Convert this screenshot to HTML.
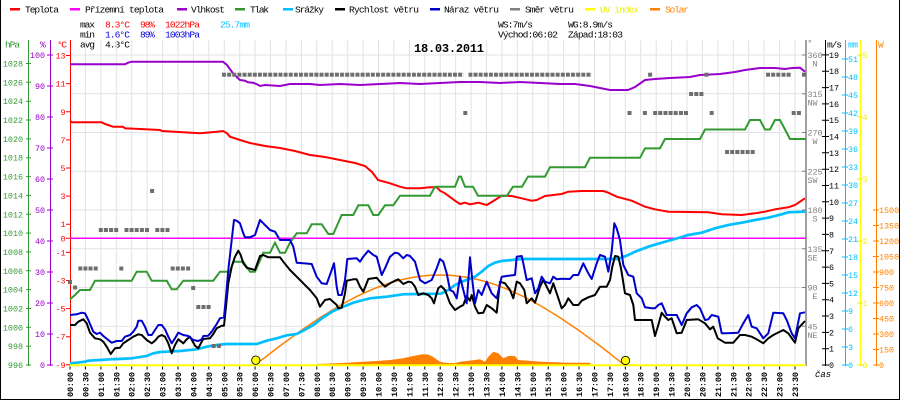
<!DOCTYPE html>
<html><head><meta charset="utf-8"><style>
html,body{margin:0;padding:0;background:#fff;}
svg{display:block;}
text{font-family:"Liberation Mono","DejaVu Sans Mono",monospace;}
.l{font-size:9.6px;}
.a{font-size:8.4px;}
.x{font-size:8.6px;font-weight:bold;}
</style></head><body>
<svg width="900" height="400" viewBox="0 0 900 400" xmlns="http://www.w3.org/2000/svg">
<defs>
<pattern id="sq" x="222" y="72.7" width="5.1333" height="4" patternUnits="userSpaceOnUse"><rect width="4" height="4" fill="#6e6e6e"/></pattern>
</defs>
<rect width="900" height="400" fill="#fff"/>
<path d="M0.5 0V400M899.5 0V400M0 399.5H900" stroke="#000" stroke-width="1" fill="none"/>

<!-- legend -->
<g class="l">
<rect x="10" y="8" width="10" height="2.5" fill="#ff0000"/><text x="25" y="12.5" textLength="34">Teplota</text>
<rect x="70" y="8" width="10" height="2.5" fill="#ff00ff"/><text x="85" y="12.5" textLength="79">Přízemní teplota</text>
<rect x="177" y="8" width="10" height="2.5" fill="#9900cc"/><text x="191" y="12.5" textLength="34">Vlhkost</text>
<rect x="235" y="8" width="10" height="2.5" fill="#339933"/><text x="250" y="12.5" textLength="19">Tlak</text>
<rect x="283" y="8" width="10" height="2.5" fill="#00bfff"/><text x="295" y="12.5" textLength="29">Srážky</text>
<rect x="335" y="8" width="10" height="2.5" fill="#000"/><text x="349" y="12.5" textLength="70">Rychlost větru</text>
<rect x="430" y="8" width="10" height="2.5" fill="#0000cc"/><text x="444" y="12.5" textLength="55">Náraz větru</text>
<rect x="510" y="8" width="10" height="2.5" fill="#808080"/><text x="525" y="12.5" textLength="49">Směr větru</text>
<rect x="585" y="8" width="10" height="2.5" fill="#ffff00"/><text x="600" y="12.5" textLength="39" fill="#eeee00">UV index</text>
<rect x="650" y="8" width="10" height="2.5" fill="#ff8000"/><text x="665" y="12.5" textLength="24" fill="#ff8000">Solar</text>
</g>

<!-- stats -->
<g class="l">
<text x="80" y="27.5" textLength="15">max</text><text x="105" y="27.5" fill="#ff0000" textLength="25">8.3°C</text><text x="140" y="27.5" fill="#ff0000" textLength="15">98%</text><text x="165" y="27.5" fill="#ff0000" textLength="35">1022hPa</text><text x="220" y="27.5" fill="#00bfff" textLength="30">25.7mm</text>
<text x="80" y="37.5" textLength="15">min</text><text x="105" y="37.5" fill="#0000dd" textLength="25">1.6°C</text><text x="140" y="37.5" fill="#0000dd" textLength="15">89%</text><text x="165" y="37.5" fill="#0000dd" textLength="35">1003hPa</text>
<text x="80" y="47.5" textLength="15">avg</text><text x="105" y="47.5" textLength="25">4.3°C</text>
<text x="498" y="27.5" textLength="35">WS:7m/s</text><text x="568" y="27.5" textLength="45">WG:8.9m/s</text>
<text x="498" y="37.5" textLength="60">Východ:06:02</text><text x="568" y="37.5" textLength="55">Západ:18:03</text>
</g>

<!-- grid -->
<path d="M85.4 40V365M100.9 40V365M116.3 40V365M131.7 40V365M147.1 40V365M162.6 40V365M178 40V365M193.4 40V365M208.8 40V365M224.3 40V365M239.7 40V365M255.1 40V365M270.5 40V365M286 40V365M301.4 40V365M316.8 40V365M332.2 40V365M347.7 40V365M363.1 40V365M378.5 40V365M393.9 40V365M409.4 40V365M424.8 40V365M440.2 40V365M455.6 40V365M471.1 40V365M486.5 40V365M501.9 40V365M517.3 40V365M532.8 40V365M548.2 40V365M563.6 40V365M579 40V365M594.5 40V365M609.9 40V365M625.3 40V365M640.7 40V365M656.2 40V365M671.6 40V365M687 40V365M702.4 40V365M717.9 40V365M733.3 40V365M748.7 40V365M764.1 40V365M779.6 40V365M795 40V365" stroke="#e2e2e2" stroke-width="1" fill="none"/>
<path d="M70 55H806M70 93.75H806M70 132.5H806M70 171.25H806M70 210H806M70 248.75H806M70 287.5H806M70 326.25H806" stroke="#e2e2e2" stroke-width="1" fill="none"/>

<rect x="412" y="42" width="74" height="11" fill="#fff"/>
<text x="414" y="52" style="font-size:12px;font-weight:bold" textLength="70">18.03.2011</text>

<!-- left axes -->
<line x1="28.5" y1="40" x2="28.5" y2="366" stroke="#339933"/>
<line x1="50.5" y1="40" x2="50.5" y2="366" stroke="#9900cc"/>
<line x1="70.5" y1="40" x2="70.5" y2="366" stroke="#ff0000"/>
<path d="M26 365H31M26 346.2H31M26 327.3H31M26 308.5H31M26 289.6H31M26 270.8H31M26 251.9H31M26 233.1H31M26 214.3H31M26 195.4H31M26 176.6H31M26 157.7H31M26 138.9H31M26 120H31M26 101.2H31M26 82.3H31M26 63.5H31" stroke="#339933"/>
<path d="M47 365H53M47 334H53M47 303H53M47 272H53M47 241H53M47 210H53M47 179H53M47 148H53M47 117H53M47 86H53M47 55H53" stroke="#9900cc"/>
<path d="M66 55.5H70M66 83.6H70M66 111.8H70M66 139.9H70M66 168H70M66 196.1H70M66 224.2H70M66 238.3H70M66 252.4H70M66 280.5H70M66 308.6H70M66 336.7H70M66 364.8H70" stroke="#ff0000"/>
<g class="a" text-anchor="end" fill="#339933">
<text x="23" y="368">996</text><text x="23" y="349.2">998</text><text x="23" y="330.3">1000</text><text x="23" y="311.5">1002</text><text x="23" y="292.6">1004</text><text x="23" y="273.8">1006</text><text x="23" y="254.9">1008</text><text x="23" y="236.1">1010</text><text x="23" y="217.3">1012</text><text x="23" y="198.4">1014</text><text x="23" y="179.6">1016</text><text x="23" y="160.7">1018</text><text x="23" y="141.9">1020</text><text x="23" y="123">1022</text><text x="23" y="104.2">1024</text><text x="23" y="85.3">1026</text><text x="23" y="66.5">1028</text>
</g>
<g class="a" text-anchor="end" fill="#9900cc">
<text x="45" y="368">0</text><text x="45" y="337">10</text><text x="45" y="306">20</text><text x="45" y="275">30</text><text x="45" y="244">40</text><text x="45" y="213">50</text><text x="45" y="182">60</text><text x="45" y="151">70</text><text x="45" y="120">80</text><text x="45" y="89">90</text><text x="45" y="58">100</text>
</g>
<g class="a" text-anchor="end" fill="#ff0000">
<text x="65.5" y="58.5">13</text><text x="65.5" y="86.6">11</text><text x="65.5" y="114.8">9</text><text x="65.5" y="142.9">7</text><text x="65.5" y="171">5</text><text x="65.5" y="199.1">3</text><text x="65.5" y="227.2">1</text><text x="65.5" y="241.3">0</text><text x="65.5" y="255.4">-1</text><text x="65.5" y="283.5">-3</text><text x="65.5" y="311.6">-5</text><text x="65.5" y="339.7">-7</text><text x="65.5" y="367.8">-9</text>
</g>
<g class="l">
<text x="5" y="47.5" fill="#339933" textLength="15">hPa</text><text x="40" y="47.5" fill="#9900cc">%</text><text x="57" y="47.5" fill="#ff0000" textLength="10">°C</text>
<text x="807" y="46" fill="#808080">°</text><text x="827" y="47.5" textLength="15">m/s</text><text x="848" y="47.5" fill="#00bfff" textLength="10">mm</text><text x="878" y="47.5" fill="#ff8000">W</text>
</g>

<!-- right axes -->
<line x1="806" y1="40" x2="806" y2="366" stroke="#808080" stroke-width="1.5"/>
<line x1="825.5" y1="40" x2="825.5" y2="366" stroke="#000"/>
<line x1="845.5" y1="40" x2="845.5" y2="366" stroke="#00bfff"/>
<line x1="860.5" y1="40" x2="860.5" y2="366" stroke="#ffff00" stroke-width="1.5"/>
<line x1="876.5" y1="40" x2="876.5" y2="366" stroke="#ff8000"/>
<path d="M802 55H806M802 93.75H806M802 132.5H806M802 171.25H806M802 210H806M802 248.75H806M802 287.5H806M802 326.25H806" stroke="#808080"/>
<path d="M822 365H829M822 348.7H829M822 332.4H829M822 316H829M822 299.7H829M822 283.4H829M822 267.1H829M822 250.8H829M822 234.4H829M822 218.1H829M822 201.8H829M822 185.5H829M822 169.2H829M822 152.8H829M822 136.5H829M822 120.2H829M822 103.9H829M822 87.6H829M822 71.2H829M822 54.9H829" stroke="#000"/>
<path d="M842 365H848M842 347H848M842 329H848M842 311H848M842 293H848M842 275H848M842 257H848M842 239H848M842 221H848M842 203H848M842 185H848M842 167H848M842 149H848M842 131H848M842 113H848M842 95H848M842 77H848M842 59H848" stroke="#00bfff"/>
<path d="M857 365H863M857 303H863M857 241H863M857 179H863M857 117H863M857 55H863" stroke="#eeee00"/>
<path d="M873 365H879M873 349.5H879M873 334H879M873 318.5H879M873 303H879M873 287.5H879M873 272H879M873 256.5H879M873 241H879M873 225.5H879M873 210H879" stroke="#ff8000"/>
<g class="a" fill="#808080">
<text x="807.5" y="58">360</text><text x="807.5" y="96.8">315</text><text x="807.5" y="135.5">270</text><text x="807.5" y="174.3">225</text><text x="807.5" y="213">180</text><text x="807.5" y="251.8">135</text><text x="807.5" y="290.5">90</text><text x="807.5" y="329.3">45</text>
</g>
<g class="a" fill="#808080" text-anchor="end">
<text x="817.5" y="66.5">N</text><text x="817.5" y="105.3">NW</text><text x="817.5" y="144">W</text><text x="817.5" y="182.8">SW</text><text x="817.5" y="221.5">S</text><text x="817.5" y="260.3">SE</text><text x="817.5" y="299">E</text><text x="817.5" y="337.8">NE</text>
</g>
<g class="a" fill="#000">
<text x="829" y="368">0</text><text x="829" y="351.7">1</text><text x="829" y="335.4">2</text><text x="829" y="319">3</text><text x="829" y="302.7">4</text><text x="829" y="286.4">5</text><text x="829" y="270.1">6</text><text x="829" y="253.8">7</text><text x="829" y="237.4">8</text><text x="829" y="221.1">9</text><text x="829" y="204.8">10</text><text x="829" y="188.5">11</text><text x="829" y="172.2">12</text><text x="829" y="155.8">13</text><text x="829" y="139.5">14</text><text x="829" y="123.2">15</text><text x="829" y="106.9">16</text><text x="829" y="90.6">17</text><text x="829" y="74.2">18</text><text x="829" y="57.9">19</text>
</g>
<g class="a" fill="#00bfff">
<text x="848" y="368">0</text><text x="848" y="350">3</text><text x="848" y="332">6</text><text x="848" y="314">9</text><text x="848" y="296">12</text><text x="848" y="278">15</text><text x="848" y="260">18</text><text x="848" y="242">21</text><text x="848" y="224">24</text><text x="848" y="206">27</text><text x="848" y="188">30</text><text x="848" y="170">33</text><text x="848" y="152">36</text><text x="848" y="134">39</text><text x="848" y="116">42</text><text x="848" y="98">45</text><text x="848" y="80">48</text><text x="848" y="62">51</text>
</g>
<g class="a" fill="#eeee00">
<text x="862.5" y="368">0</text><text x="862.5" y="306">1</text><text x="862.5" y="244">2</text><text x="862.5" y="182">3</text><text x="862.5" y="120">4</text><text x="862.5" y="58">5</text>
</g>
<g class="a" fill="#ff8000">
<text x="879" y="368">0</text><text x="879" y="352.5">150</text><text x="879" y="337">300</text><text x="879" y="321.5">450</text><text x="879" y="306">600</text><text x="879" y="290.5">750</text><text x="879" y="275">900</text><text x="879" y="259.5">1050</text><text x="879" y="244">1200</text><text x="879" y="228.5">1350</text><text x="879" y="213">1500</text>
</g>
<text x="815" y="377" style="font-size:9px;font-style:italic">čas</text>

<!-- solar measured fill -->
<polygon fill="#ff8000" points="316,365 316.7,364 330,363.5 346.7,362.7 363,361.7 376.7,361 390,360 403,358.3 413,356 423,354.3 428,354.5 433,356.7 436.7,359.5 440,361.7 445,362.7 455,363.3 460,361.7 475,360 480,359.3 485,361.7 488.3,356.7 493.3,351.7 498.3,353.3 503.3,358.3 508.3,356 515,356 518.3,360 528.3,360.7 541.7,361.7 568.3,362.7 590,362.7 591,365"/>
<polyline fill="none" stroke="#ff8000" stroke-width="1.5" points="255,365 264,358.2 273.5,350.9 282.5,344 292,337.2 301,330.5 310.5,324.1 319.5,318 329,312.1 338,306.6 347.5,301.4 356.5,296.6 366,292.2 375,288.3 384.5,284.8 393.5,281.9 403,279.4 412,277.5 421.5,276.1 430.5,275.3 440,275 449.5,275.3 458.5,276.1 468,277.5 477,279.4 486.5,281.9 495.5,284.8 505,288.3 514,292.2 523.5,296.6 532.5,301.4 542,306.6 551,312.1 560.5,318 569.5,324.1 579,330.5 588,337.2 597.5,344 606.5,350.9 615.5,358.2 625,365"/>

<line x1="70" y1="238.3" x2="806" y2="238.3" stroke="#ff00ff" stroke-width="1.5"/>

<polyline fill="none" stroke="#ff0000" stroke-width="2" points="70,121 72,122.3 101.7,122.3 105,124 108,125 113,126.7 123,126.7 125,128.3 140,129 160,130 162,131 200,133.3 217,131.7 223,131 227,133.3 230,136.7 237,139 240,140 250,143 265,146 280,148 295,151 310,155 325,157 340,160 355,163 365,166 372,172 378,180 390,183.3 400,186.7 406.7,188.3 420,188.3 430,187.3 436.7,187.3 440,190.7 445,193.3 455,200.7 460,204 465,202.7 470,204.3 478.3,202.7 486.7,205 495,200 501.7,195.7 511.7,196 521.7,198.3 531.7,200.7 536.7,200 545,196 561.7,194 568.3,191.7 581.7,191 603.3,191 608.3,192.7 616.7,196.7 631.7,200.7 645,206.7 655,209.3 668.3,211.7 708.3,212.3 721.7,214.3 741.7,215 755,213.3 765,211.7 775,209.3 788.3,207.3 795,205 805,198.3"/>

<polyline fill="none" stroke="#9900cc" stroke-width="2" points="70,64.3 125,64.3 128,62.7 132,61.7 223,61.7 227,65 233,73.3 238,78.3 240,80 245,80.7 248,82.3 253,82.7 257,84.3 260,86 265,85 280,86 290,84 310,84 320,85 340,84 360,85 380,84 400,83 420,84 440,83 460,82 480,82 500,83 520,82 540,83 560,84 575,84 590,86 600,88 610,90 628,90 635,87 645,80 655,79 670,78 690,77 700,75 720,74 735,72 745,70 760,68 775,68 785,69 792,68 800,67.7 805,71.7"/>

<polyline fill="none" stroke="#339933" stroke-width="2" points="70,299.3 75,295 80,290 90,290 95,280.7 131.7,280.7 136.7,271.7 146.7,271.7 151.7,280.7 166.7,280.7 171.7,289.3 176.7,289.3 183.3,280.7 213.3,280.7 220,271.7 230,271.7 233.3,261.7 243.3,261.7 250,271.7 255,271.7 263.3,252.7 270,252.7 275,242.7 280,252.7 285,252.7 290,242.7 296.7,233.3 306.7,233.3 311.7,224.3 321.7,224.3 328.3,234 333.3,234 341.7,215 353.3,215 358.3,205.3 368.3,205.3 373.3,215 378.3,215 385,205.3 393.3,205.3 400,195.7 430,195.7 435,186.7 455,186.7 459,176.6 461,176.6 465,186.7 473,186.7 478,195.7 507,195.7 513,186.7 522,186.7 528,176.6 545,176.6 550,167.2 585,167.2 590,157.8 640,157.8 645,148.4 660,148.4 665,139 700,139 705,129.5 745,129.5 750,120 760,120 765,129.5 770,129.5 775,120 780,120 785,129.5 790,139 806,139"/>

<polyline fill="none" stroke="#00bfff" stroke-width="2.7" points="70,363.3 76.7,362.7 85,361.7 88.3,360.7 100,360 110,359.3 118.3,359 131.7,358.3 146.7,356 153.3,353.3 160,352 166.7,351.7 180,351 196.7,349.3 206.7,346.7 216.7,345 226.7,344 256.7,344 266.7,340.7 276.7,338.3 286.7,335.3 296.7,334 303.3,330.7 313.3,325 323.3,317.3 333.3,311 343.3,306.7 353.3,302.7 363.3,300 370,298.3 386.7,296.7 403.3,294.3 416.7,294 440,293.7 441.7,293.3 448.3,290 455,285 461.7,281.7 468.3,279.3 475,276.7 481.7,271.7 488.3,266 495,262.7 501.7,261 511.7,260 521.7,259 618,259 621.7,257.5 628.3,255 635,251.7 648.3,246.7 661.7,242.7 675,239 688.3,235 701.7,232.7 715,228.3 728.3,225 741.7,222.7 755,220 768.3,217.7 781.7,214.3 788.3,212.3 805,211.7"/>

<polyline fill="none" stroke="#000" stroke-width="2" stroke-linejoin="round" points="70,325 75,325 78.3,321.7 83.3,319.3 86.7,323.3 90,332.7 95,338.3 100,339.3 103.3,341.7 106.7,346.7 110.7,354 115,348.3 120,347.7 123.3,343.3 128.3,340 133.3,336.7 138.3,334.3 141.7,335 146.7,340 151.7,343.3 155,340.7 158.3,336.7 161.7,335 165,336.7 168.3,343.3 171.7,353.3 175,345 178.3,339.3 183.3,343.3 186.7,339.3 190,336.7 195,345.7 198.3,348.3 201.7,341.7 203.3,339 210,338.3 213.3,334 216.7,328.3 221.7,325.7 224,325.7 226,306.7 228.3,283.3 231.7,266.7 235,256.7 238.3,250.7 240.7,255 243.3,263.3 246.7,267.7 255,270 260,256 263.3,255 268.3,257.3 280,257.3 283.3,261.7 290,270 296.7,276.7 303.3,283.3 310,290 316.7,298.3 320,306.7 325,300 330,299 336.7,305 338.3,308.3 341.7,307.7 345,293.3 346.7,280.7 353.3,279.3 356.7,279.3 360,286.7 363.3,291.7 368.3,279 376.7,277.7 380,281.7 385,286.7 390,283.3 395,280.7 398.3,279.3 403.3,284 408.3,281.7 411.7,282.3 415,286.7 418.3,295 423.3,293.3 428.3,295 431.7,298.3 434,303.3 436.7,293.3 438.3,288.3 441,286 445,290 450,303.3 455,310 460,306.7 463.3,305 466.7,296 470,300.7 471.7,295 475,306.7 478.3,313.3 483.3,312.7 486.7,305 491.7,308.3 496.7,312.7 500,281.7 505,283.3 510,290 513.3,298.3 516.7,281.7 520,283.3 524.3,290 526.7,303.3 531.7,298.3 535,302.7 540,286.7 543.3,280 546.7,286.7 550,293.3 553.3,283.3 556.7,293.3 561.7,308.3 565,305 568.3,298.3 573.3,305 578.3,305 581.7,300.7 588.3,297.3 595,295 600,286.7 606.7,286.7 610,280 612.3,266.7 615,256 618.3,256.7 621,268.3 625,293.3 630,295 633.3,305 635,320 651.7,320 655,336 658.3,325 661.7,312.7 665,316.7 668.3,320 671.7,318.3 676.7,333.3 681.7,332.7 686.7,320 698.3,319.3 705,323.3 710,329.3 713.3,326.7 717.7,338.3 725,342.7 733.3,342.7 740,335 745,335 751.7,336.7 756.7,339.3 763.3,343.3 768.3,338.3 773.3,335 783.3,330 788.3,333.3 795,342.7 798.3,328.3 805,321"/>

<polyline fill="none" stroke="#0000cc" stroke-width="2" stroke-linejoin="round" points="70,315 76.7,314.3 81.7,312.7 85,313.3 88.3,320 93.3,331.7 96.7,334 100,332.7 103.3,336 108.3,340 111.7,342.7 116.7,341 121.7,341 125,336.7 130,335 133.3,331.7 136.7,326.7 138.3,320.7 141.7,320.7 145,326.7 148.3,335 151.7,335 155,330 158.3,325 161.7,325 165,329.3 168.3,336.7 171.7,343.3 175,338.3 178.3,332.7 183.3,335 188.3,336 193.3,340 198.3,341 201.7,339.3 203.3,336 208.3,335.7 211.7,331.7 216.7,324 220,318.3 224,317.3 226,296.7 228.3,270 231.7,240 234,220 236.7,220.7 240,223.3 243.3,233.3 245,237.3 250,237.3 255,235 260,220 263.3,223.3 270,230 275,231.7 280,240 290,240 293.3,246.7 296.7,262.7 303.3,263.3 311.7,264 316.7,276.7 321.7,283.3 326.7,284 331.7,270 334,263.3 336.7,286.7 338.3,295 341.7,295 345,280 347.3,259 356.7,258.3 360,261.7 363.3,256.7 368.3,250.7 373.3,255 376.7,256.7 381.7,275 385,268.3 390,256.7 395,252.7 398.3,253.3 403.3,258.3 406.7,255 410,256 415,261.7 420,280 425,283.3 431.7,280 436.7,268.3 440,259 443.3,261.7 446.7,273.3 450,290 453.3,291.7 456.7,298.3 460,276.7 463.3,290 466.7,303.3 470,257.3 472.3,280 475,303.3 478.3,290 481.7,295 486.7,281.7 491.7,293.3 496.7,298.3 501.7,276.7 508.3,275.7 515,275 516.7,256.7 521.7,256 523.3,263.3 526.7,280 531.7,278.3 535,293.3 538.3,288.3 541.7,276.7 545,281.7 550,283.3 553.3,276.7 556.7,279.3 561.7,278.7 570,279 573.3,275 578.3,275 583.3,263.3 588.3,273.3 591.7,279 596.7,263.3 600,255 605,256.7 608.3,271.7 611.7,251.7 614.3,223.3 616.7,228.3 620,240 623.3,265 628.3,275 633.3,276.7 636.7,293.3 641.7,298.3 645,307.3 651.7,308.3 655,308.3 658.3,305 661.7,303.3 666.7,315 676.7,315 681.7,325 686.7,313.3 691.7,307.3 696.7,305 700,308.3 705,320 708.3,319.3 711.7,315 718.3,316.7 721.7,333.3 726.7,333.3 738.3,332.7 743.3,323.3 748.3,315 751.7,326.7 756.7,328.3 763.3,338.3 768.3,333.3 773.3,312.7 783.3,313.3 786.7,320 791.7,333.3 795,338.3 800,313.3 805,312.3"/>

<g fill="#6e6e6e">
<rect x="222" y="72.7" width="241.3" height="4" fill="url(#sq)"/>
<rect x="468.4" y="72.7" width="123.2" height="4" fill="url(#sq)"/>
<rect x="463.3" y="111" width="4" height="4"/>
<rect x="68" y="280" width="4" height="4"/>
<rect x="73.1" y="285.5" width="4" height="4"/>
<rect x="78.3" y="266.5" width="4" height="4"/><rect x="83.4" y="266.5" width="4" height="4"/><rect x="88.5" y="266.5" width="4" height="4"/><rect x="93.7" y="266.5" width="4" height="4"/>
<rect x="98.8" y="228" width="4" height="4"/><rect x="103.9" y="228" width="4" height="4"/><rect x="109.1" y="228" width="4" height="4"/><rect x="114.2" y="228" width="4" height="4"/>
<rect x="119.3" y="266.5" width="4" height="4"/>
<rect x="124.5" y="228" width="4" height="4"/><rect x="129.6" y="228" width="4" height="4"/><rect x="134.7" y="228" width="4" height="4"/><rect x="139.9" y="228" width="4" height="4"/><rect x="145" y="228" width="4" height="4"/>
<rect x="150.1" y="189" width="4" height="4"/>
<rect x="155.3" y="228" width="4" height="4"/><rect x="160.4" y="228" width="4" height="4"/><rect x="165.5" y="228" width="4" height="4"/>
<rect x="170.7" y="266.5" width="4" height="4"/><rect x="175.8" y="266.5" width="4" height="4"/><rect x="180.9" y="266.5" width="4" height="4"/><rect x="186.1" y="266.5" width="4" height="4"/>
<rect x="191.2" y="286" width="4" height="4"/>
<rect x="196.3" y="305" width="4" height="4"/><rect x="201.5" y="305" width="4" height="4"/><rect x="206.6" y="305" width="4" height="4"/>
<rect x="211.7" y="344" width="4" height="4"/><rect x="216.9" y="344" width="4" height="4"/>
<rect x="627.5" y="111" width="4" height="4"/>
<rect x="642.9" y="111" width="4" height="4"/>
<rect x="648.1" y="72.7" width="4" height="4"/>
<rect x="653.2" y="111" width="4" height="4"/><rect x="658.3" y="111" width="4" height="4"/><rect x="663.5" y="111" width="4" height="4"/><rect x="668.6" y="111" width="4" height="4"/><rect x="673.7" y="111" width="4" height="4"/><rect x="678.9" y="111" width="4" height="4"/><rect x="684" y="111" width="4" height="4"/>
<rect x="689.1" y="92" width="4" height="4"/><rect x="694.3" y="92" width="4" height="4"/><rect x="699.4" y="92" width="4" height="4"/>
<rect x="704.5" y="72.7" width="4" height="4"/>
<rect x="709.7" y="111" width="4" height="4"/>
<rect x="725.1" y="150" width="4" height="4"/><rect x="730.2" y="150" width="4" height="4"/><rect x="735.3" y="150" width="4" height="4"/><rect x="740.5" y="150" width="4" height="4"/><rect x="745.6" y="150" width="4" height="4"/><rect x="750.7" y="150" width="4" height="4"/>
<rect x="766.1" y="72.7" width="4" height="4"/><rect x="771.2" y="72.7" width="4" height="4"/><rect x="776.3" y="72.7" width="4" height="4"/><rect x="781.5" y="72.7" width="4" height="4"/><rect x="786.6" y="72.7" width="4" height="4"/>
<rect x="791.7" y="111" width="4" height="4"/><rect x="796.9" y="111" width="4" height="4"/>
<rect x="802" y="72.7" width="4" height="4"/>
</g>

<line x1="70" y1="365.3" x2="806" y2="365.3" stroke="#ffff00" stroke-width="2"/>
<circle cx="255.8" cy="360.2" r="4.2" fill="#ffff00" stroke="#000" stroke-width="0.8"/>
<circle cx="625.5" cy="360.5" r="4.2" fill="#ffff00" stroke="#000" stroke-width="0.8"/>

<path d="M70 366.5V369.5M85.4 366.5V369.5M100.9 366.5V369.5M116.3 366.5V369.5M131.7 366.5V369.5M147.1 366.5V369.5M162.6 366.5V369.5M178 366.5V369.5M193.4 366.5V369.5M208.8 366.5V369.5M224.3 366.5V369.5M239.7 366.5V369.5M255.1 366.5V369.5M270.5 366.5V369.5M286 366.5V369.5M301.4 366.5V369.5M316.8 366.5V369.5M332.2 366.5V369.5M347.7 366.5V369.5M363.1 366.5V369.5M378.5 366.5V369.5M393.9 366.5V369.5M409.4 366.5V369.5M424.8 366.5V369.5M440.2 366.5V369.5M455.6 366.5V369.5M471.1 366.5V369.5M486.5 366.5V369.5M501.9 366.5V369.5M517.3 366.5V369.5M532.8 366.5V369.5M548.2 366.5V369.5M563.6 366.5V369.5M579 366.5V369.5M594.5 366.5V369.5M609.9 366.5V369.5M625.3 366.5V369.5M640.7 366.5V369.5M656.2 366.5V369.5M671.6 366.5V369.5M687 366.5V369.5M702.4 366.5V369.5M717.9 366.5V369.5M733.3 366.5V369.5M748.7 366.5V369.5M764.1 366.5V369.5M779.6 366.5V369.5M795 366.5V369.5" stroke="#000" stroke-width="1"/>

<g class="x">
<text transform="translate(73,397) rotate(-90)" textLength="25">00:00</text>
<text transform="translate(88.4,397) rotate(-90)" textLength="25">00:30</text>
<text transform="translate(103.9,397) rotate(-90)" textLength="25">01:00</text>
<text transform="translate(119.3,397) rotate(-90)" textLength="25">01:30</text>
<text transform="translate(134.7,397) rotate(-90)" textLength="25">02:00</text>
<text transform="translate(150.1,397) rotate(-90)" textLength="25">02:30</text>
<text transform="translate(165.6,397) rotate(-90)" textLength="25">03:00</text>
<text transform="translate(181,397) rotate(-90)" textLength="25">03:30</text>
<text transform="translate(196.4,397) rotate(-90)" textLength="25">04:00</text>
<text transform="translate(211.8,397) rotate(-90)" textLength="25">04:30</text>
<text transform="translate(227.3,397) rotate(-90)" textLength="25">05:00</text>
<text transform="translate(242.7,397) rotate(-90)" textLength="25">05:30</text>
<text transform="translate(258.1,397) rotate(-90)" textLength="25">06:00</text>
<text transform="translate(273.5,397) rotate(-90)" textLength="25">06:30</text>
<text transform="translate(289,397) rotate(-90)" textLength="25">07:00</text>
<text transform="translate(304.4,397) rotate(-90)" textLength="25">07:30</text>
<text transform="translate(319.8,397) rotate(-90)" textLength="25">08:00</text>
<text transform="translate(335.2,397) rotate(-90)" textLength="25">08:30</text>
<text transform="translate(350.7,397) rotate(-90)" textLength="25">09:00</text>
<text transform="translate(366.1,397) rotate(-90)" textLength="25">09:30</text>
<text transform="translate(381.5,397) rotate(-90)" textLength="25">10:00</text>
<text transform="translate(396.9,397) rotate(-90)" textLength="25">10:30</text>
<text transform="translate(412.4,397) rotate(-90)" textLength="25">11:00</text>
<text transform="translate(427.8,397) rotate(-90)" textLength="25">11:30</text>
<text transform="translate(443.2,397) rotate(-90)" textLength="25">12:00</text>
<text transform="translate(458.6,397) rotate(-90)" textLength="25">12:30</text>
<text transform="translate(474.1,397) rotate(-90)" textLength="25">13:00</text>
<text transform="translate(489.5,397) rotate(-90)" textLength="25">13:30</text>
<text transform="translate(504.9,397) rotate(-90)" textLength="25">14:00</text>
<text transform="translate(520.3,397) rotate(-90)" textLength="25">14:30</text>
<text transform="translate(535.8,397) rotate(-90)" textLength="25">15:00</text>
<text transform="translate(551.2,397) rotate(-90)" textLength="25">15:30</text>
<text transform="translate(566.6,397) rotate(-90)" textLength="25">16:00</text>
<text transform="translate(582,397) rotate(-90)" textLength="25">16:30</text>
<text transform="translate(597.5,397) rotate(-90)" textLength="25">17:00</text>
<text transform="translate(612.9,397) rotate(-90)" textLength="25">17:30</text>
<text transform="translate(628.3,397) rotate(-90)" textLength="25">18:00</text>
<text transform="translate(643.7,397) rotate(-90)" textLength="25">18:30</text>
<text transform="translate(659.2,397) rotate(-90)" textLength="25">19:00</text>
<text transform="translate(674.6,397) rotate(-90)" textLength="25">19:30</text>
<text transform="translate(690,397) rotate(-90)" textLength="25">20:00</text>
<text transform="translate(705.4,397) rotate(-90)" textLength="25">20:30</text>
<text transform="translate(720.9,397) rotate(-90)" textLength="25">21:00</text>
<text transform="translate(736.3,397) rotate(-90)" textLength="25">21:30</text>
<text transform="translate(751.7,397) rotate(-90)" textLength="25">22:00</text>
<text transform="translate(767.1,397) rotate(-90)" textLength="25">22:30</text>
<text transform="translate(782.6,397) rotate(-90)" textLength="25">23:00</text>
<text transform="translate(798,397) rotate(-90)" textLength="25">23:30</text>
</g>
</svg>
</body></html>
